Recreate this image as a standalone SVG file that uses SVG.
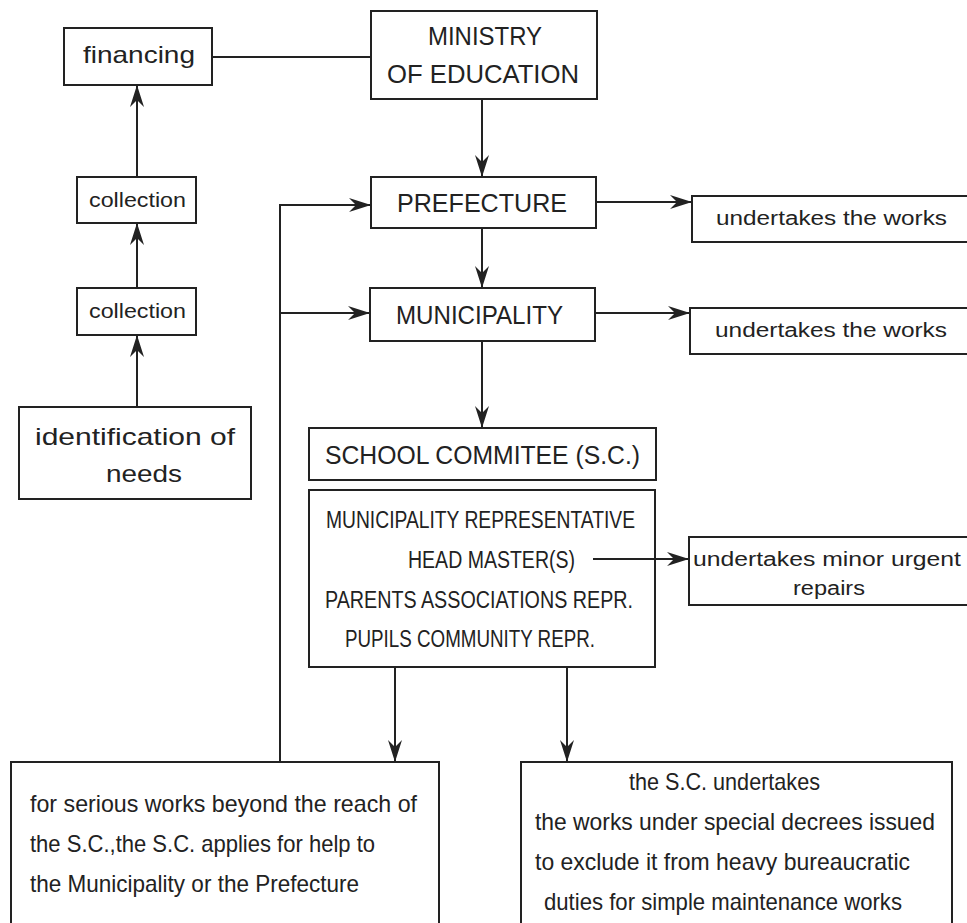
<svg xmlns="http://www.w3.org/2000/svg" width="967" height="923" viewBox="0 0 967 923">
<defs>
<style>
.box{fill:none;stroke:#222;stroke-width:2}
.ln{fill:none;stroke:#222;stroke-width:2}
.t{font-family:"Liberation Sans",Arial,sans-serif;fill:#222}
.c25{font-size:25px}
.c23{font-size:23px}
.l24{font-size:24px}
.l20{font-size:20px}
</style>
<marker id="ah" viewBox="0 0 22 16" refX="22" refY="8" markerWidth="22" markerHeight="16" markerUnits="userSpaceOnUse" orient="auto">
<path d="M22,8 L0,1 L7,8 L0,15 Z" fill="#222"/>
</marker>
</defs>
<rect width="967" height="923" fill="#fff"/>

<g id="connectors">
<line class="ln" x1="212" y1="57" x2="371" y2="57"/>
<line class="ln" x1="482" y1="99" x2="482" y2="177" marker-end="url(#ah)"/>
<line class="ln" x1="482" y1="228" x2="482" y2="288" marker-end="url(#ah)"/>
<line class="ln" x1="482" y1="341" x2="482" y2="428" marker-end="url(#ah)"/>
<line class="ln" x1="137" y1="177" x2="137" y2="85" marker-end="url(#ah)"/>
<line class="ln" x1="137" y1="288" x2="137" y2="223" marker-end="url(#ah)"/>
<line class="ln" x1="137" y1="407" x2="137" y2="335" marker-end="url(#ah)"/>
<line class="ln" x1="596" y1="202" x2="692" y2="202" marker-end="url(#ah)"/>
<line class="ln" x1="595" y1="313" x2="690" y2="313" marker-end="url(#ah)"/>
<polyline class="ln" points="280,762 280,205 371,205" marker-end="url(#ah)"/>
<line class="ln" x1="280" y1="313" x2="370" y2="313" marker-end="url(#ah)"/>
<line class="ln" x1="593" y1="559" x2="689" y2="559" marker-end="url(#ah)"/>
<line class="ln" x1="395" y1="667" x2="395" y2="762" marker-end="url(#ah)"/>
<line class="ln" x1="567" y1="667" x2="567" y2="762" marker-end="url(#ah)"/>
</g>

<g id="financing">
<rect class="box" x="64" y="28" width="148" height="57"/>
<text class="t l24" x="83" y="63" textLength="112" lengthAdjust="spacingAndGlyphs">financing</text>
</g>
<g id="ministry">
<rect class="box" x="371" y="11" width="226" height="88"/>
<text class="t c25" x="428" y="45" textLength="114" lengthAdjust="spacingAndGlyphs">MINISTRY</text>
<text class="t c25" x="387" y="83" textLength="192" lengthAdjust="spacingAndGlyphs">OF EDUCATION</text>
</g>
<g id="collection1">
<rect class="box" x="77" y="177" width="119" height="46"/>
<text class="t l20" x="89" y="207" textLength="97" lengthAdjust="spacingAndGlyphs">collection</text>
</g>
<g id="collection2">
<rect class="box" x="77" y="288" width="119" height="47"/>
<text class="t l20" x="89" y="318" textLength="97" lengthAdjust="spacingAndGlyphs">collection</text>
</g>
<g id="identification">
<rect class="box" x="19" y="407" width="232" height="92"/>
<text class="t l24" x="35" y="445" textLength="200" lengthAdjust="spacingAndGlyphs">identification of</text>
<text class="t l24" x="106" y="482" textLength="76" lengthAdjust="spacingAndGlyphs">needs</text>
</g>
<g id="prefecture">
<rect class="box" x="371" y="177" width="225" height="51"/>
<text class="t c25" x="397" y="212" textLength="170" lengthAdjust="spacingAndGlyphs">PREFECTURE</text>
</g>
<g id="municipality">
<rect class="box" x="370" y="288" width="225" height="53"/>
<text class="t c25" x="396" y="324" textLength="167" lengthAdjust="spacingAndGlyphs">MUNICIPALITY</text>
</g>
<g id="undertakes1">
<rect class="box" x="692" y="196" width="280" height="46"/>
<text class="t l20" x="716" y="225" textLength="231" lengthAdjust="spacingAndGlyphs">undertakes the works</text>
</g>
<g id="undertakes2">
<rect class="box" x="690" y="308" width="282" height="46"/>
<text class="t l20" x="715" y="337" textLength="232" lengthAdjust="spacingAndGlyphs">undertakes the works</text>
</g>
<g id="school-committee">
<rect class="box" x="309" y="428" width="347" height="52"/>
<text class="t c25" x="325" y="464" textLength="315" lengthAdjust="spacingAndGlyphs">SCHOOL COMMITEE (S.C.)</text>
</g>
<g id="members">
<rect class="box" x="309" y="490" width="346" height="177"/>
<text class="t c23" x="326" y="528" textLength="309" lengthAdjust="spacingAndGlyphs">MUNICIPALITY REPRESENTATIVE</text>
<text class="t c23" x="408" y="568" textLength="167" lengthAdjust="spacingAndGlyphs">HEAD MASTER(S)</text>
<text class="t c23" x="325" y="608" textLength="308" lengthAdjust="spacingAndGlyphs">PARENTS ASSOCIATIONS REPR.</text>
<text class="t c23" x="345" y="647" textLength="250" lengthAdjust="spacingAndGlyphs">PUPILS COMMUNITY REPR.</text>
</g>
<g id="minor-repairs">
<rect class="box" x="689" y="537" width="283" height="68"/>
<text class="t l20" x="693" y="566" textLength="268" lengthAdjust="spacingAndGlyphs">undertakes minor urgent</text>
<text class="t l20" x="793" y="595" textLength="72" lengthAdjust="spacingAndGlyphs">repairs</text>
</g>
<g id="serious-works">
<rect class="box" x="11" y="762" width="428" height="170"/>
<text class="t l24" x="30" y="812" textLength="387" lengthAdjust="spacingAndGlyphs">for serious works beyond the reach of</text>
<text class="t l24" x="30" y="852" textLength="345" lengthAdjust="spacingAndGlyphs">the S.C.,the S.C. applies for help to</text>
<text class="t l24" x="30" y="892" textLength="329" lengthAdjust="spacingAndGlyphs">the Municipality or the Prefecture</text>
</g>
<g id="sc-undertakes">
<rect class="box" x="521" y="762" width="431" height="170"/>
<text class="t l24" x="629" y="790" textLength="191" lengthAdjust="spacingAndGlyphs">the S.C. undertakes</text>
<text class="t l24" x="535" y="830" textLength="400" lengthAdjust="spacingAndGlyphs">the works under special decrees issued</text>
<text class="t l24" x="535" y="870" textLength="375" lengthAdjust="spacingAndGlyphs">to exclude it from heavy bureaucratic</text>
<text class="t l24" x="544" y="910" textLength="358" lengthAdjust="spacingAndGlyphs">duties for simple maintenance works</text>
</g>
</svg>
